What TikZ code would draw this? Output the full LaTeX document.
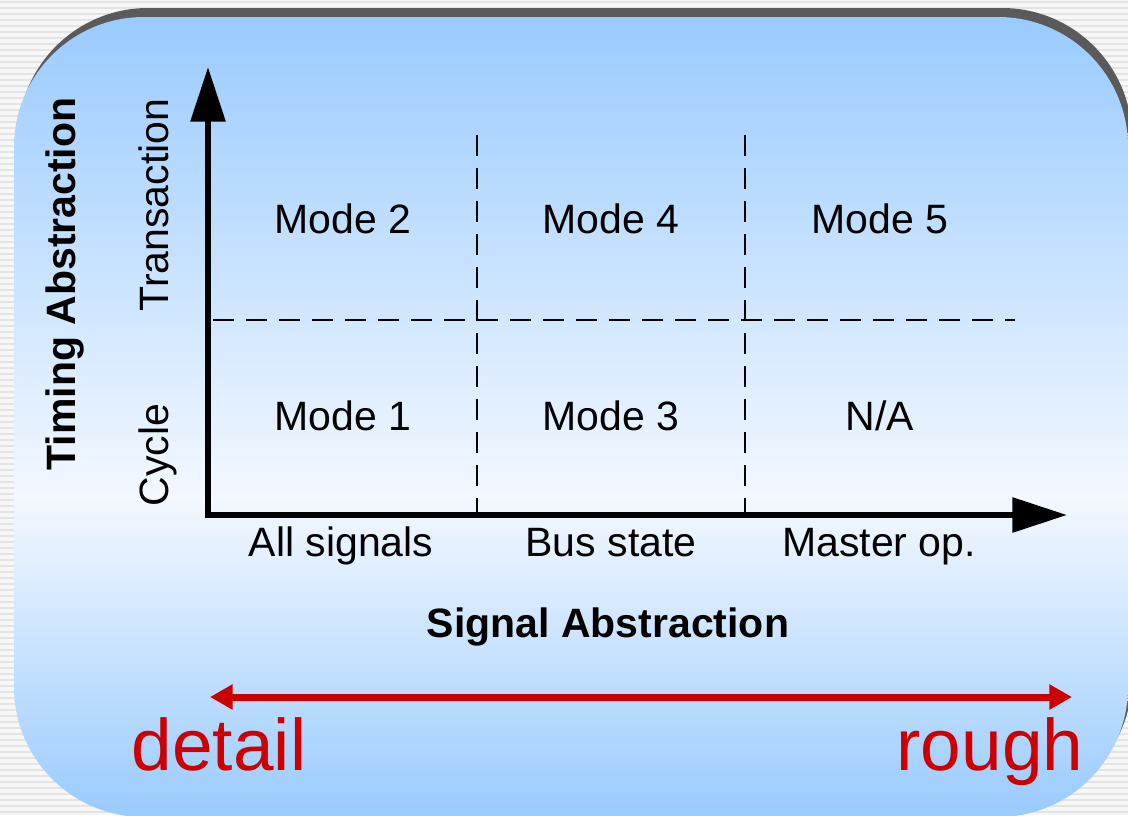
\documentclass[tikz,border=0pt]{standalone}
\usepackage{fontspec}
\setmainfont{Liberation Sans}
\usetikzlibrary{arrows.meta}
\definecolor{bgstripe}{HTML}{E4E4E4}
\definecolor{bgbase}{HTML}{F7F7F7}
\definecolor{blueedge}{HTML}{99CBFE}
\definecolor{bluemid}{HTML}{F4F8FF}
\definecolor{shadowgray}{HTML}{5A5A5A}
\definecolor{redarrow}{HTML}{CC0000}
\pgfdeclareverticalshading{panelshade}{100bp}{color(0bp)=(blueedge); color(25bp)=(blueedge); color(45bp)=(bluemid); color(75bp)=(blueedge); color(100bp)=(blueedge)}
\begin{document}
\begin{tikzpicture}[x=0.75pt,y=-0.75pt,
  lbl/.style={font=\fontsize{30.75}{36}\selectfont, inner sep=0pt, anchor=base},
  blbl/.style={font=\fontsize{30.75}{36}\selectfont\bfseries, inner sep=0pt, anchor=base},
  axis/.style={line width=4.5pt, line cap=rect, -{Triangle[length=41pt,width=25.5pt]}},
  gridline/.style={line width=1.5pt, dash pattern=on 15.75pt off 9pt},
  big/.style={font=\fontsize{54.75}{62}\selectfont, text=redarrow, inner sep=0pt, anchor=base},
  rangearrow/.style={draw=redarrow, line width=5.25pt, {Triangle[length=17pt,width=18pt]}-{Triangle[length=17pt,width=18pt]}}]
\useasboundingbox (0,0) rectangle (1128,815);
\clip (0,0) rectangle (1128,815);
% background
\fill[bgbase] (0,0) rectangle (1128,815);
\foreach \y in {2,8,...,815} \draw[bgstripe, line width=1.2pt] (0,\y) -- (1128,\y);
% panel with shadow
\fill[shadowgray, rounded corners=97.5pt] (18,8) rectangle (1132,808);
\shade[shading=panelshade, rounded corners=97.5pt] (14,17) rectangle (1128,817);
% coordinates
\coordinate (O) at (208,515);
\coordinate (Ytip) at (208,67);
\coordinate (Xtip) at (1067,515);
\coordinate (HL) at (213,320);
\coordinate (HR) at (1015,320);
\coordinate (V1t) at (477,135);
\coordinate (V1b) at (477,512);
\coordinate (V2t) at (745,135);
\coordinate (V2b) at (745,512);
\coordinate (RL) at (210,697);
\coordinate (RR) at (1072,697);
% grid
\draw[gridline] (HL) -- (HR);
\draw[gridline] (V1t) -- (V1b);
\draw[gridline] (V2t) -- (V2b);
% axes
\draw[axis] (O) -- (Ytip);
\draw[axis] (O) -- (Xtip);
% cells
\node[lbl] (m2) at (343,233) {Mode 2};
\node[lbl] (m4) at (611,233) {Mode 4};
\node[lbl] (m5) at (880,233) {Mode 5};
\node[lbl] (m1) at (343,430) {Mode 1};
\node[lbl] (m3) at (611,430) {Mode 3};
\node[lbl] (na) at (880,430) {N/A};
% x labels
\node[lbl] (xs1) at (341,556) {All signals};
\node[lbl] (xs2) at (611,556) {Bus state};
\node[lbl] (xs3) at (879,556) {Master op.};
\node[blbl] (xt) at (608,637) {Signal Abstraction};
% y labels
\node[blbl, rotate=90] (yt) at (75,284) {Timing Abstraction};
\node[lbl, rotate=90] (ys2) at (168,205) {Transaction};
\node[lbl, rotate=90] (ys1) at (168,455) {Cycle};
% range arrow
\draw[rangearrow] (RL) -- (RR);
\node[big] (det) at (219,770) {detail};
\node[big] (rgh) at (990,770) {rough};
\end{tikzpicture}
\end{document}
